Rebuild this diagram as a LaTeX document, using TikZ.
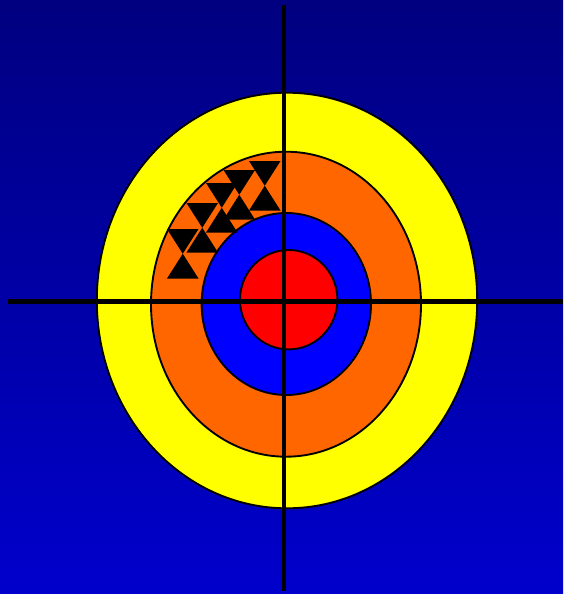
\documentclass[tikz,border=0pt]{standalone}
\usetikzlibrary{calc}
\definecolor{cbgtop}{HTML}{000080}
\definecolor{cbgbot}{HTML}{0000CC}
\definecolor{cyellow}{HTML}{FFFF00}
\definecolor{corange}{HTML}{FF6600}
\definecolor{cblue}{HTML}{0000FF}
\definecolor{cred}{HTML}{FF0000}
\tikzset{
  ring/.style={draw=black, fill=#1, line width=1.6pt},
  ring/.default=cyellow,
  crosshair/.style={draw=black, line width=4.2pt},
  hourglass/.style={fill=black},
}

\begin{document}
\begin{tikzpicture}[x=0.03cm, y=-0.03cm]
  \useasboundingbox (0,0) rectangle (563,594);
  \shade[top color=cbgtop, bottom color=cbgbot] (0,0) rectangle (563,594);
  \draw[ring=cyellow] (287,300.5) ellipse [x radius=190.2, y radius=207.8];
  \draw[ring=corange] (286,304.2) ellipse [x radius=135, y radius=152.5];
  \draw[ring=cblue] (286.3,304) ellipse [x radius=84.7, y radius=91];
  \draw[ring=cred] (288.7,299.7) ellipse [x radius=48.7, y radius=49.7];
  \foreach \hx/\hy in {249/161, 223.5/170, 206/183, 186.5/203, 167/229}
    \fill[hourglass] (\hx,\hy) -- ++(31.5,0) -- ++(-15.75,24.75) -- ++(15.75,24.75)
      -- ++(-31.5,0) -- ++(15.75,-24.75) -- cycle;
  \draw[crosshair] (284,5) -- (284,591);
  \draw[crosshair] (7.5,301.8) -- (563,301.8);
\end{tikzpicture}
\end{document}
